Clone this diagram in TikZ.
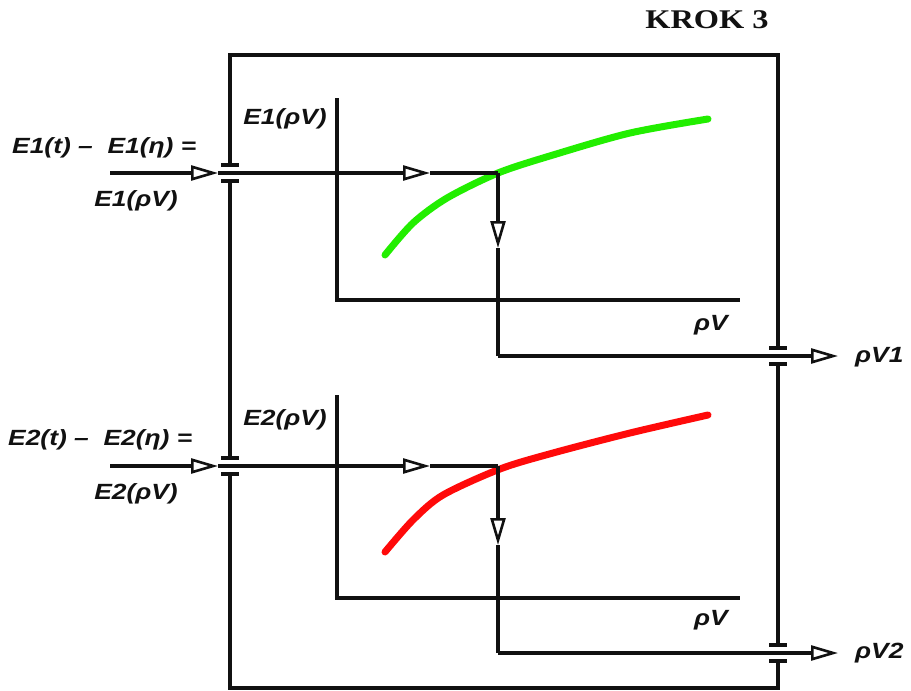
\documentclass[tikz,border=0pt]{standalone}
\usepackage{fontspec}
\setmainfont{Liberation Sans}
\newfontfamily\labfont[FakeStretch=1.2]{Liberation Sans}
\newfontfamily\headfont[FakeStretch=1.2]{Liberation Serif}
\usetikzlibrary{arrows.meta,calc}
\definecolor{ink}{HTML}{111111}
\definecolor{rise}{HTML}{22EE00}
\definecolor{fall}{HTML}{FF0A0A}
\tikzset{
  every node/.style={text=ink,inner sep=0pt},
  lab/.style={font=\labfont\bfseries\itshape\fontsize{22}{26}\selectfont},
  head/.style={font=\headfont\bfseries\fontsize{27}{30}\selectfont},
  wire/.style={draw=ink,line width=3.1pt},
  axis/.style={draw=ink,line width=3.6pt},
  flow/.style={wire,-{Triangle[open,length=27pt,width=15pt,line width=2.6pt]}},
  tick/.style={draw=ink,line width=3.1pt},
  curve/.style={line width=7pt,line cap=round,line join=round},
}

\begin{document}
\begin{tikzpicture}[x=1pt,y=-1pt]
\path[use as bounding box] (0,0) rectangle (911,691);
\fill[white] (0,0) rectangle (911,691);
\node[head] (title) at (707,20) {KROK 3};
% outer frame, broken where the signals pass through
\draw[wire] (230,165) -- (230,55) -- (778,55) -- (778,348);
\draw[wire] (778,364) -- (778,645);
\draw[wire] (778,662) -- (778,688) -- (230,688) -- (230,474);
\draw[wire] (230,182) -- (230,458);
\foreach \px/\py in {230/173,230/466,778/356,778/653}{
  \draw[tick] (\px-9,\py-8) -- (\px+9,\py-8);
  \draw[tick] (\px-9,\py+8) -- (\px+9,\py+8);
}
% upper characteristic
\draw[axis] (337,98) -- (337,300) -- (740,300);
\node[lab] (ylab1) at (285,119) {E1(ρV)};
\node[lab] (xlab1) at (711,325) {ρV};
\draw[curve,rise] plot[smooth] coordinates {(385,255) (413,223) (447,198) (498,173) (553,155) (630,133) (708,119)};
\node[lab,anchor=west] (eq1) at (12,148) {E1(t) –\ \ E1(η) =};
\node[lab] (val1) at (136,201) {E1(ρV)};
\node[lab,anchor=west] (res1) at (855,357) {ρV1};
\coordinate (in1) at (110,173);
\coordinate (port1) at (218,173);
\coordinate (mid1) at (430,173);
\coordinate (hit1) at (498,173);
\coordinate (down1) at (498,248);
\coordinate (turn1) at (498,356);
\coordinate (out1) at (838,356);
\draw[flow] (in1) -- (port1);
\draw[flow] (port1) -- (mid1);
\draw[wire] (mid1) -- (hit1);
\draw[flow] (hit1) -- (down1);
\draw[wire] (down1) -- (turn1);
\draw[flow] (turn1) -- (out1);
% lower characteristic
\draw[axis] (337,395) -- (337,598) -- (740,598);
\node[lab] (ylab2) at (285,420) {E2(ρV)};
\node[lab] (xlab2) at (711,620) {ρV};
\draw[curve,fall] plot[smooth] coordinates {(385,552) (413,520) (443,495) (500,469) (553,453) (630,433) (708,415)};
\node[lab,anchor=west] (eq2) at (8,440) {E2(t) –\ \ E2(η) =};
\node[lab] (val2) at (136,494) {E2(ρV)};
\node[lab,anchor=west] (res2) at (855,653) {ρV2};
\coordinate (in2) at (110,466);
\coordinate (port2) at (218,466);
\coordinate (mid2) at (430,466);
\coordinate (hit2) at (498,466);
\coordinate (down2) at (498,545);
\coordinate (turn2) at (498,653);
\coordinate (out2) at (838,653);
\draw[flow] (in2) -- (port2);
\draw[flow] (port2) -- (mid2);
\draw[wire] (mid2) -- (hit2);
\draw[flow] (hit2) -- (down2);
\draw[wire] (down2) -- (turn2);
\draw[flow] (turn2) -- (out2);
\end{tikzpicture}
\end{document}
